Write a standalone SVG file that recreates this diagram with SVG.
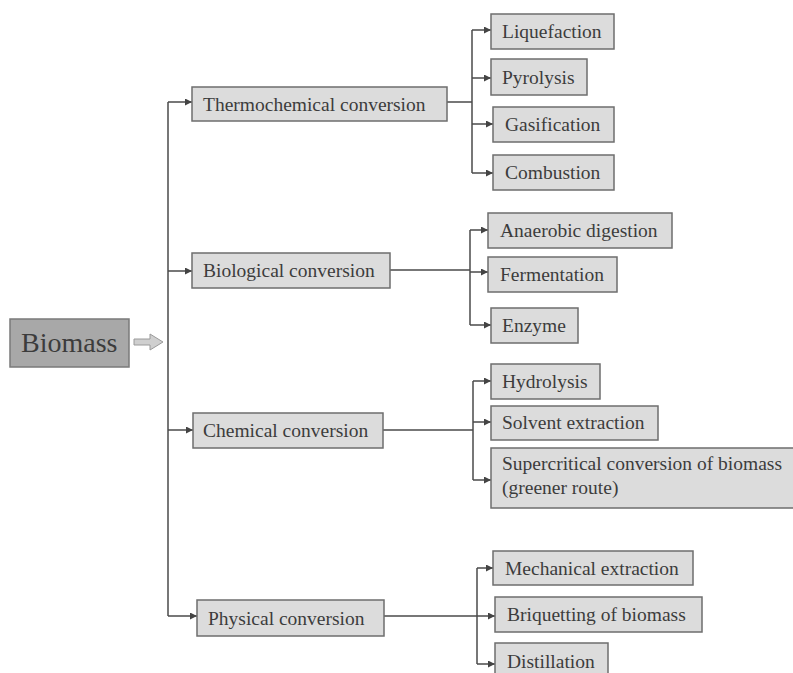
<svg xmlns="http://www.w3.org/2000/svg" width="793" height="673" viewBox="0 0 793 673" font-family="'Liberation Serif', 'DejaVu Serif', 'Times New Roman', Times, serif">
<defs>
<marker id="ah" viewBox="0 0 8 8" refX="8" refY="4" markerWidth="7" markerHeight="7" markerUnits="userSpaceOnUse" orient="auto">
<path d="M0,0 L8,4 L0,8 z" fill="#444"/>
</marker>
<style>
.box{fill:#dcdcdc;stroke:#6e6e6e;stroke-width:1.5}
.root{fill:#a8a8a8;stroke:#7a7a7a;stroke-width:1.5}
.t{font-family:'Liberation Serif','DejaVu Serif','Times New Roman',Times,serif;font-size:19.5px;fill:#3c3c3c}
.tr{font-family:'Liberation Serif','DejaVu Serif','Times New Roman',Times,serif;font-size:28px;fill:#3c3c3c}
.c{fill:none;stroke:#4a4a4a;stroke-width:1.5}
.ca{fill:none;stroke:#4a4a4a;stroke-width:1.5;marker-end:url(#ah)}
</style>
</defs>
<rect width="793" height="673" fill="#ffffff"/>

<g id="connectors">
<path class="c" d="M168,102 V616"/>
<path class="ca" d="M168,102 H192"/>
<path class="ca" d="M168,271 H192"/>
<path class="ca" d="M168,430 H193"/>
<path class="ca" d="M168,616 H197"/>
<path d="M134,339 H150 V334 L163,342 L150,350 V345 H134 Z" fill="#cfcfcf" stroke="#9a9a9a" stroke-width="1"/>

<path class="c" d="M447,102 H472"/>
<path class="c" d="M472,30 V173"/>
<path class="ca" d="M472,30 H491"/>
<path class="ca" d="M472,78 H491"/>
<path class="ca" d="M472,124 H493"/>
<path class="ca" d="M472,173 H493"/>

<path class="c" d="M390,270 H470"/>
<path class="c" d="M470,230 V325"/>
<path class="ca" d="M470,230 H488"/>
<path class="ca" d="M470,272 H488"/>
<path class="ca" d="M470,325 H491"/>

<path class="c" d="M383,430 H473"/>
<path class="c" d="M473,381 V480"/>
<path class="ca" d="M473,381 H491"/>
<path class="ca" d="M473,422 H491"/>
<path class="ca" d="M473,480 H491"/>

<path class="c" d="M384,616 H477"/>
<path class="c" d="M477,568 V664"/>
<path class="ca" d="M477,568 H493"/>
<path class="ca" d="M477,616 H495"/>
<path class="ca" d="M477,664 H495"/>
</g>

<g id="biomass"><rect class="root" x="10" y="319" width="119" height="48"/><text class="tr" x="21" y="352">Biomass</text></g>

<g id="thermochemical"><rect class="box" x="192" y="87" width="255" height="34"/><text class="t" x="203" y="110.5">Thermochemical conversion</text></g>
<g id="liquefaction"><rect class="box" x="491" y="14" width="123" height="35"/><text class="t" x="502" y="38">Liquefaction</text></g>
<g id="pyrolysis"><rect class="box" x="491" y="59" width="96" height="36"/><text class="t" x="502" y="83.5">Pyrolysis</text></g>
<g id="gasification"><rect class="box" x="493" y="107" width="121" height="35"/><text class="t" x="505" y="131">Gasification</text></g>
<g id="combustion"><rect class="box" x="493" y="155" width="121" height="35"/><text class="t" x="505" y="179">Combustion</text></g>

<g id="biological"><rect class="box" x="192" y="253" width="198" height="35"/><text class="t" x="203" y="277">Biological conversion</text></g>
<g id="anaerobic"><rect class="box" x="488" y="213" width="184" height="35"/><text class="t" x="500" y="237">Anaerobic digestion</text></g>
<g id="fermentation"><rect class="box" x="488" y="257" width="129" height="35"/><text class="t" x="500" y="281">Fermentation</text></g>
<g id="enzyme"><rect class="box" x="491" y="308" width="87" height="35"/><text class="t" x="502" y="332">Enzyme</text></g>

<g id="chemical"><rect class="box" x="193" y="413" width="190" height="35"/><text class="t" x="203" y="437">Chemical conversion</text></g>
<g id="hydrolysis"><rect class="box" x="491" y="364" width="109" height="35"/><text class="t" x="502" y="388">Hydrolysis</text></g>
<g id="solvent"><rect class="box" x="491" y="406" width="167" height="34"/><text class="t" x="502" y="429">Solvent extraction</text></g>
<g id="supercritical"><rect class="box" x="491" y="448" width="305" height="60"/><text class="t" x="502" y="470">Supercritical conversion of biomass</text><text class="t" x="502" y="494">(greener route)</text></g>

<g id="physical"><rect class="box" x="197" y="600" width="187" height="36"/><text class="t" x="208" y="624.5">Physical conversion</text></g>
<g id="mechanical"><rect class="box" x="493" y="551" width="200" height="34"/><text class="t" x="505" y="574.5">Mechanical extraction</text></g>
<g id="briquetting"><rect class="box" x="495" y="597" width="207" height="35"/><text class="t" x="507" y="621">Briquetting of biomass</text></g>
<g id="distillation"><rect class="box" x="495" y="643" width="113" height="42"/><text class="t" x="507" y="668">Distillation</text></g>
</svg>
